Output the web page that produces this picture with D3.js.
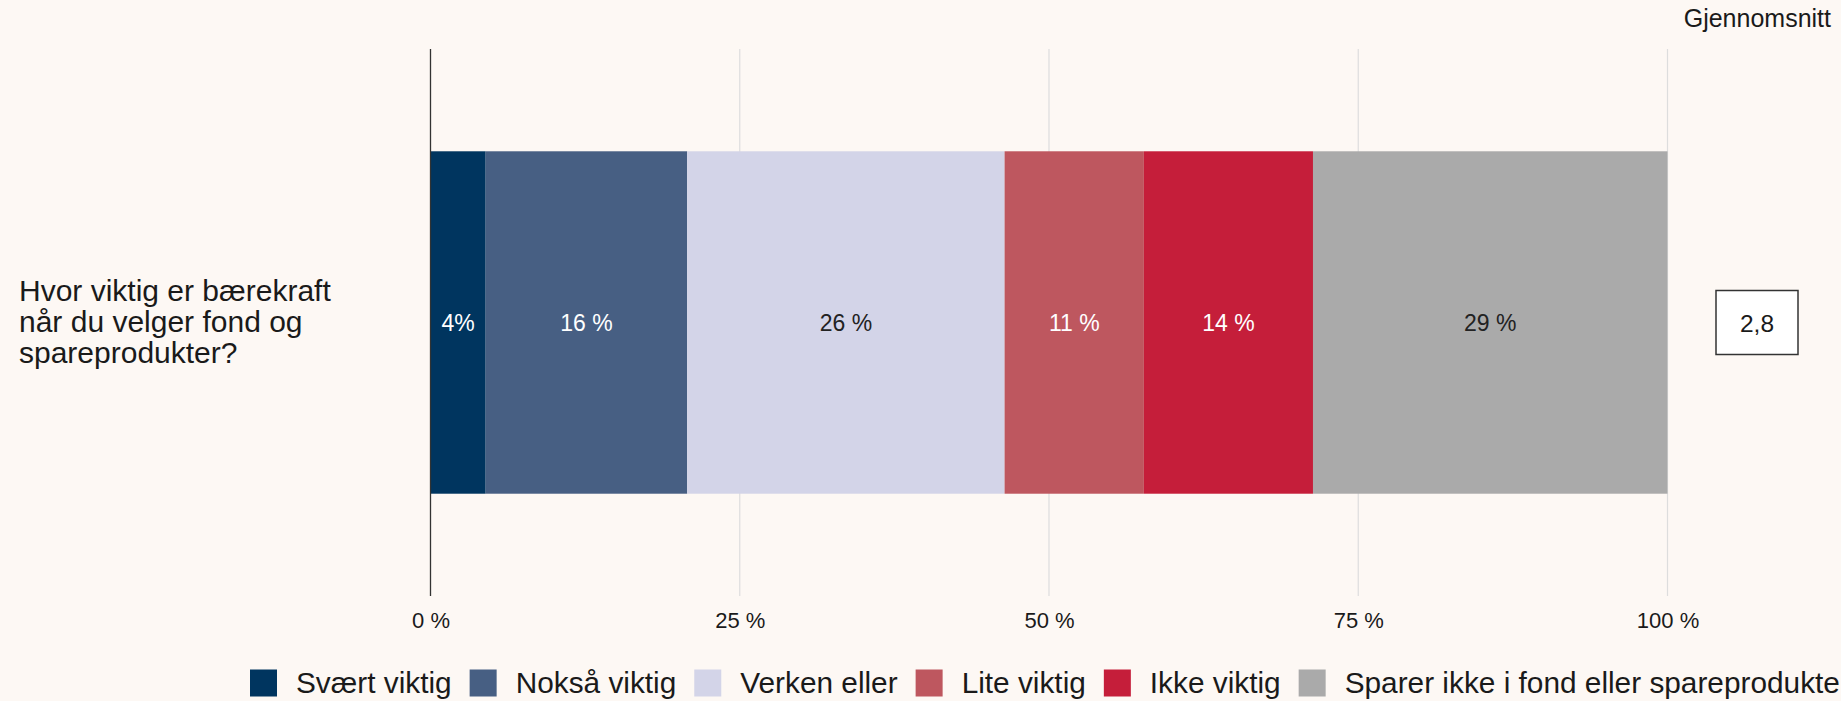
<!DOCTYPE html>
<html>
<head>
<meta charset="utf-8">
<script src="https://cdn.jsdelivr.net/npm/d3@7"></script>
<style>
  html, body { margin: 0; padding: 0; background: #fdf8f4; overflow: hidden; }
  svg { display: block; font-family: Arial, "Liberation Sans", Helvetica, sans-serif; }
</style>
</head>
<body>
<svg id="chart" width="1841" height="701"></svg>
<script>
// ---- Data ----
const categories = ["Hvor viktig er bærekraft når du velger fond og spareprodukter?"];
const categoryLines = ["Hvor viktig er bærekraft", "når du velger fond og", "spareprodukter?"];
const seriesNames = ["Svært viktig", "Nokså viktig", "Verken eller", "Lite viktig", "Ikke viktig", "Sparer ikke i fond eller spareprodukter"];
const seriesValues = [4.46, 16.29, 25.66, 11.26, 13.67, 28.66];
const valueLabels = ["4%", "16 %", "26 %", "11 %", "14 %", "29 %"];
const averageTitle = "Gjennomsnitt";
const averageValues = ["2,8"];
const tickValues = [0, 25, 50, 75, 100];
const tickLabels = ["0 %", "25 %", "50 %", "75 %", "100 %"];

// ---- Styles ----
const colors = ["#00355f", "#475f83", "#d3d4e8", "#be575f", "#c51e3a", "#aaaaaa"];
const labelColors = ["#ffffff", "#ffffff", "#222222", "#ffffff", "#ffffff", "#222222"];

const svg = d3.select("#chart");
const W = 1841, H = 701;
svg.append("rect").attr("width", W).attr("height", H).attr("fill", "#fdf8f4");

const plotTop = 49, plotBottom = 596;
const x = d3.scaleLinear().domain([0, 100]).range([430.5, 1667.5]);
const y = d3.scaleBand().domain(categories).range([plotTop, plotBottom]).paddingInner(0.23).paddingOuter(0.23);

// gridlines
svg.append("g").selectAll("line").data(tickValues.filter(d => d !== 0)).join("line")
  .attr("x1", d => x(d)).attr("x2", d => x(d))
  .attr("y1", plotTop).attr("y2", plotBottom)
  .attr("stroke", "#dddddd").attr("stroke-width", 1.2);

// stacked data
const stackRow = {};
seriesNames.forEach((s, i) => stackRow[s] = seriesValues[i]);
stackRow.category = categories[0];
const stacked = d3.stack().keys(seriesNames)([stackRow]);

const segG = svg.append("g");
stacked.forEach((layer, i) => {
  layer.forEach(d => {
    segG.append("rect")
      .attr("x", x(d[0]))
      .attr("width", x(d[1]) - x(d[0]))
      .attr("y", y(d.data.category))
      .attr("height", y.bandwidth())
      .attr("fill", colors[i]);
    segG.append("text")
      .attr("x", (x(d[0]) + x(d[1])) / 2)
      .attr("y", y(d.data.category) + y.bandwidth() / 2 + 8.5)
      .attr("text-anchor", "middle")
      .attr("font-size", "23px")
      .attr("fill", labelColors[i])
      .text(valueLabels[i]);
  });
});

// axis line at 0
svg.append("line")
  .attr("x1", x(0)).attr("x2", x(0))
  .attr("y1", plotTop).attr("y2", plotBottom)
  .attr("stroke", "#333333").attr("stroke-width", 1.3);

// x tick labels via axis
const xAxis = d3.axisBottom(x).tickValues(tickValues).tickFormat((d, i) => tickLabels[i]).tickSize(0).tickPadding(0);
const axG = svg.append("g").attr("transform", `translate(0, ${629 - 17})`).call(xAxis);
axG.select(".domain").remove();
axG.selectAll("text").attr("font-size", "22px").attr("fill", "#1a1a1a")
  .attr("font-family", "Arial, 'Liberation Sans', sans-serif")
  .attr("dy", "0.71em").attr("y", 0);

// category label
const catText = svg.append("text")
  .attr("x", 19)
  .attr("y", y(categories[0]) + y.bandwidth() / 2 - 22)
  .attr("font-size", "30px")
  .attr("fill", "#1a1a1a");
categoryLines.forEach((ln, i) => {
  catText.append("tspan").attr("x", 19).attr("dy", i === 0 ? 0 : 31.3).text(ln);
});

// average title
svg.append("text")
  .attr("x", 1831).attr("y", 27)
  .attr("text-anchor", "end")
  .attr("font-size", "25px")
  .attr("fill", "#1a1a1a")
  .text(averageTitle);

// average box
const avgCx = 1757;
categories.forEach((c, i) => {
  const cy = y(c) + y.bandwidth() / 2;
  svg.append("rect")
    .attr("x", avgCx - 41).attr("y", cy - 32)
    .attr("width", 82).attr("height", 64)
    .attr("fill", "#ffffff").attr("stroke", "#333333").attr("stroke-width", 1.5);
  svg.append("text")
    .attr("x", avgCx).attr("y", cy + 9.5)
    .attr("text-anchor", "middle")
    .attr("font-size", "24.5px")
    .attr("fill", "#1a1a1a")
    .text(averageValues[i]);
});

// legend
const legG = svg.append("g");
let lx = 250;
const boxTop = 669.5, boxSize = 27;
seriesNames.forEach((s, i) => {
  legG.append("rect")
    .attr("x", lx).attr("y", boxTop)
    .attr("width", boxSize).attr("height", boxSize)
    .attr("fill", colors[i]);
  const t = legG.append("text")
    .attr("x", lx + 46).attr("y", boxTop + 23)
    .attr("font-size", "29.8px")
    .attr("fill", "#1a1a1a")
    .text(s);
  const w = t.node().getComputedTextLength();
  lx = lx + 46 + w + 18;
});
</script>
</body>
</html>
